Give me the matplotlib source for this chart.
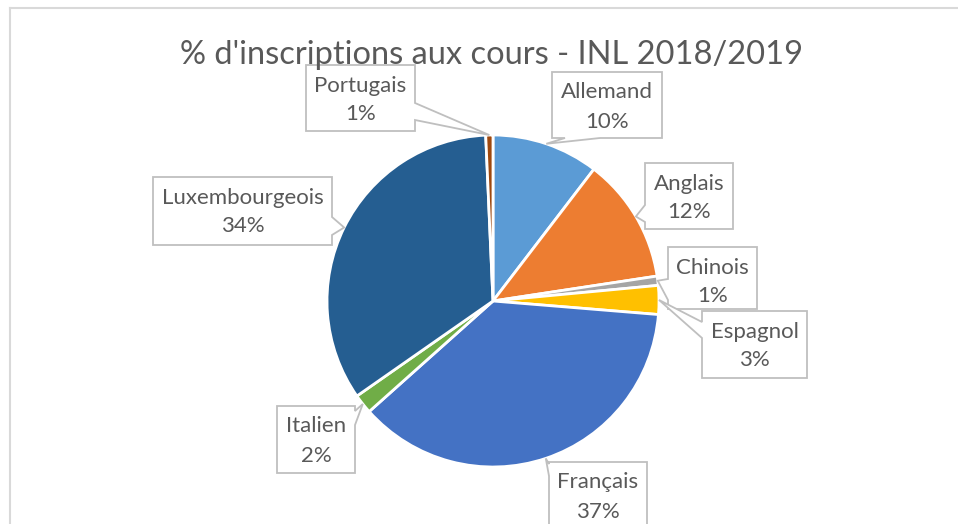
import matplotlib
matplotlib.use("Agg")
from matplotlib import pyplot as plt
from matplotlib.patches import Polygon
from matplotlib.lines import Line2D
import numpy as np

# data
languages = ['Allemand', 'Anglais', 'Chinois', 'Espagnol', 'Français',
             'Italien', 'Luxembourgeois', 'Portugais']
shares = [10.4, 12.2, 0.9, 2.8, 37.1, 1.9, 34.0, 0.7]
colors = ['#5B9BD5', '#ED7D31', '#A5A5A5', '#FFC000', '#4472C4',
          '#70AD47', '#255E91', '#9E480E']
title = "% d'inscriptions aux cours - INL 2018/2019"

# label boxes in pixels (x0, y0, x1, y1, side of pointer, base start, base end)
label_boxes = {
    'Allemand': (552, 72, 662, 138, 'bottom', 565, 600),
    'Anglais': (645, 163, 733, 229, 'left', 205, 222),
    'Chinois': (668, 247, 757, 309, 'left', 279, 300),
    'Espagnol': (702, 311, 807, 378, 'left', 322, 338),
    'Français': (549, 462, 647, 545, 'left', 464, 476),
    'Italien': (277, 406, 355, 473, 'right', 411, 425),
    'Luxembourgeois': (153, 177, 332, 245, 'right', 217, 235),
    'Portugais': (306, 65, 415, 131, 'right', 103, 120),
}

W, H = 958, 524
cx, cy, rad = 493, 301, 166
txt_color = '#595959'
plt.rcParams['font.family'] = ['Lato', 'DejaVu Sans']

fig = plt.figure(figsize=(W / 100, H / 100), dpi=100)
ax = fig.add_axes([0, 0, 1, 1])

ax.pie(shares, colors=colors, startangle=-90, counterclock=True,
       center=(cx, cy), radius=rad,
       wedgeprops=dict(edgecolor='white', linewidth=2))
ax.set_xlim(0, W)
ax.set_ylim(H, 0)
ax.set_aspect('equal')
ax.axis('off')


def callout(box, apex):
    x0, y0, x1, y1, side, b0, b1 = box
    pts = [(x0, y0)]
    if side == 'top':
        pts += [(b0, y0), apex, (b1, y0)]
    pts.append((x1, y0))
    if side == 'right':
        pts += [(x1, b0), apex, (x1, b1)]
    pts.append((x1, y1))
    if side == 'bottom':
        pts += [(b1, y1), apex, (b0, y1)]
    pts.append((x0, y1))
    if side == 'left':
        pts += [(x0, b1), apex, (x0, b0)]
    return Polygon(pts, closed=True, facecolor='white', edgecolor='#BFBFBF',
                   linewidth=1.3, zorder=5)


total = sum(shares)
cum = np.cumsum([0] + shares)
for i, name in enumerate(languages):
    mid = (cum[i] + cum[i + 1]) / 2 / total
    ang = np.deg2rad(-90 + 360 * mid)
    apex = (cx + rad * np.cos(ang), cy + rad * np.sin(ang))
    box = label_boxes[name]
    ax.add_patch(callout(box, apex))
    xc = (box[0] + box[2]) / 2
    yc = box[1] + 35
    ax.text(xc, yc - 14.5, name, ha='center', va='center', fontsize=16,
            color=txt_color, zorder=6)
    ax.text(xc, yc + 14.5, f'{round(shares[i] / total * 100)}%', ha='center',
            va='center', fontsize=16, color=txt_color, zorder=6)

ax.text(492, 55, title, ha='center', va='center', fontsize=23.5,
        color=txt_color, zorder=6)

# chart area border (cropped on right and bottom)
fig.add_artist(Line2D([10 / W, 10 / W], [0, 1 - 8 / H], transform=fig.transFigure,
                      color='#D9D9D9', linewidth=1.5))
fig.add_artist(Line2D([10 / W, 1], [1 - 8 / H, 1 - 8 / H], transform=fig.transFigure,
                      color='#D9D9D9', linewidth=1.5))

fig.savefig('out.png', dpi=100)
